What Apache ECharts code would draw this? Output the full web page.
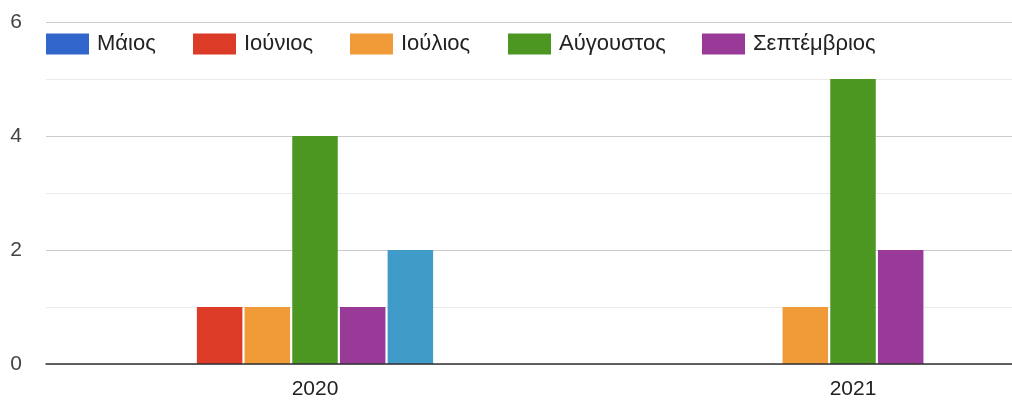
<!DOCTYPE html>
<html>
<head>
<meta charset="utf-8">
<script src="https://cdn.jsdelivr.net/npm/echarts@6/dist/echarts.min.js"></script>
<style>
  html, body { margin: 0; padding: 0; background: #fff; overflow: hidden; }
  #wrap { width: 1012px; height: 401px; overflow: hidden; }
  /* the plot runs past the right edge of the view */
  #chart { width: 1122px; height: 401px; }
</style>
</head>
<body>
<div id="wrap"><div id="chart"></div></div>
<script>
// Monthly counts per year
const years = ['2020', '2021'];
const seriesNames = ['Μάιος', 'Ιούνιος', 'Ιούλιος', 'Αύγουστος', 'Σεπτέμβριος', 'Οκτώβριος', 'Νοέμβριος'];
const maios = [0, 0];
const iounios = [1, 0];
const ioulios = [1, 1];
const avgoustos = [4, 5];
const septemvrios = [1, 2];
const oktovrios = [2, 0];
const noemvrios = [0, 0];
const yTicks = [0, 2, 4, 6];

const values = [maios, iounios, ioulios, avgoustos, septemvrios, oktovrios, noemvrios];
const colors = ['#3366cc', '#dc3b27', '#f09a38', '#4b9722', '#993a98', '#419bc8', '#dd4477'];

// legend entries placed one by one along the top row
const legendX = [46, 193, 350, 508, 702];
const FONT = '"Liberation Sans", Arial, sans-serif';

const legends = legendX.map((x, i) => ({
  data: [seriesNames[i]],
  left: x,
  top: 33,
  itemWidth: 43,
  itemHeight: 21,
  itemGap: 0,
  padding: 0,
  icon: 'rect',
  selectedMode: false,
  textStyle: { fontFamily: FONT, fontSize: 22, color: '#222', padding: [0, 0, 0, 3] }
}));

const chart = echarts.init(document.getElementById('chart'), null, { renderer: 'canvas' });
chart.setOption({
  animation: false,
  color: colors,
  legend: legends,
  grid: { left: 46, top: 22, bottom: 37, right: 0, containLabel: false },
  xAxis: {
    type: 'category',
    data: years,
    z: 5,
    axisLine: { lineStyle: { color: '#333', width: 1.5 } },
    axisTick: { show: false },
    axisLabel: { fontFamily: FONT, fontSize: 21, color: '#222', margin: 15 }
  },
  yAxis: {
    type: 'value',
    min: yTicks[0],
    max: yTicks[yTicks.length - 1],
    interval: 2,
    axisLine: { show: false },
    axisTick: { show: false },
    axisLabel: { fontFamily: FONT, fontSize: 21, color: '#444', margin: 24 },
    splitLine: { lineStyle: { color: '#cccccc', width: 1 } },
    minorTick: { show: false, splitNumber: 2 },
    minorSplitLine: { show: true, lineStyle: { color: '#ebebeb', width: 1 } }
  },
  series: seriesNames.map((name, i) => ({
    name: name,
    type: 'bar',
    data: values[i],
    barWidth: 45.5,
    barGap: '4.8%',
    itemStyle: { color: colors[i] }
  }))
});
</script>
</body>
</html>
